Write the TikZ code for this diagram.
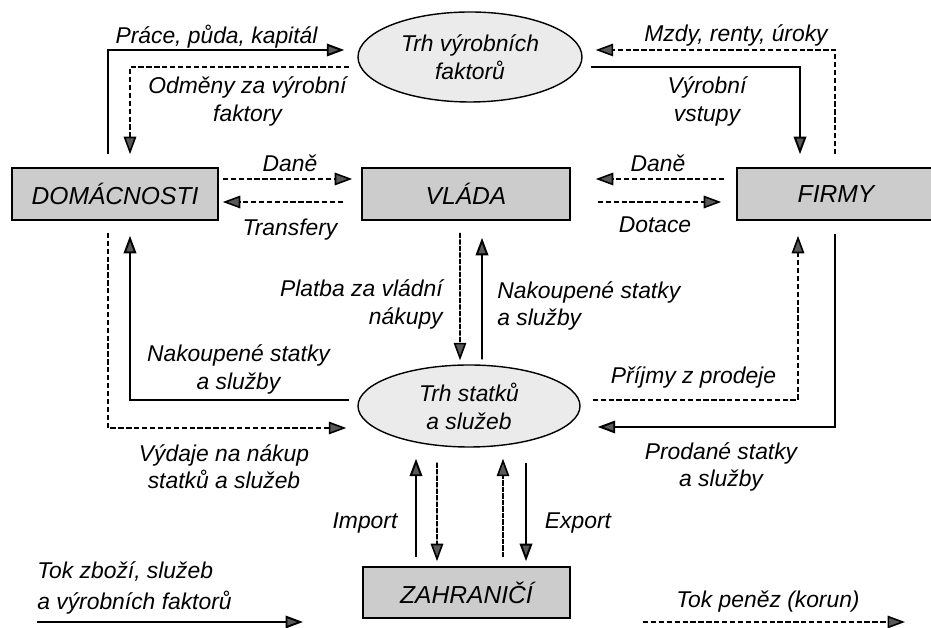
\documentclass[tikz,border=0pt]{standalone}
\usepackage{fontspec}
\setmainfont{Liberation Sans}
\usetikzlibrary{positioning,shapes.geometric,arrows.meta}
\tikzset{
  sector/.style={draw,line width=0.9pt,fill=black!20,minimum height=1.04cm,inner sep=0pt,font=\fontsize{14}{16}\selectfont\itshape},
  market/.style={draw,ellipse,line width=0.8pt,fill=black!8,inner sep=0pt,align=center,font=\fontsize{13}{16}\selectfont\itshape},
  lbl/.style={font=\fontsize{13}{15.5}\selectfont\itshape,inner sep=0pt,align=center},
  tip/.style={-{Triangle[length=3.5mm,width=2.5mm,fill=black!65]}},
  goods/.style={tip,line width=1.1pt},
  money/.style={tip,line width=0.9pt,dash pattern=on 3pt off 1.5pt},
  finemoney/.style={tip,line width=0.9pt,dash pattern=on 3pt off 0.7pt},
}
\begin{document}
\begin{tikzpicture}
\useasboundingbox (0,0) rectangle (18.62,12.56);
% sectors and markets
\node[sector,minimum width=4.12cm] (dom) at (2.3,8.68) {DOMÁCNOSTI};
\node[sector,minimum width=4.16cm] (vlada) at (9.32,8.68) {VLÁDA};
\node[sector,minimum width=3.96cm] (firmy) at (16.72,8.68) {FIRMY};
\node[sector,minimum width=4.14cm,minimum height=1.02cm] (zahr) at (9.33,0.71) {ZAHRANIČÍ};
\node[market,minimum width=4.48cm,minimum height=1.8cm] (trhF) at (9.4,11.42) {Trh výrobních\\faktorů};
\node[market,minimum width=4.44cm,minimum height=1.64cm] (trhS) at (9.38,4.44) {Trh statků\\a služeb};
% factor market
\draw[goods] ([xshift=-0.14cm,yshift=0.26cm]dom.north) |- ([xshift=-0.26cm,yshift=0.14cm]trhF.west);
\draw[money] ([xshift=-0.16cm,yshift=-0.2cm]trhF.west) -| ([xshift=0.3cm,yshift=0.26cm]dom.north);
\draw[money] ([xshift=-0.02cm,yshift=0.26cm]firmy.north) |- ([xshift=0.26cm,yshift=0.14cm]trhF.east);
\draw[goods] ([xshift=0.16cm,yshift=-0.2cm]trhF.east) -| ([xshift=-0.72cm,yshift=0.26cm]firmy.north);
\node[lbl] (lPrace) at (4.33,11.82) {Práce, půda, kapitál};
\node[lbl] (lOdmeny) at (4.95,10.53) {Odměny za výrobní\\faktory};
\node[lbl] (lMzdy) at (14.72,11.86) {Mzdy, renty, úroky};
\node[lbl] (lVstupy) at (14.14,10.53) {Výrobní\\vstupy};
% government
\draw[money] ([xshift=0.08cm,yshift=0.3cm]dom.east) -- ([xshift=-0.18cm,yshift=0.3cm]vlada.west);
\draw[money] ([xshift=-0.36cm,yshift=-0.16cm]vlada.west) -- ([xshift=0.08cm,yshift=-0.16cm]dom.east);
\draw[money] ([xshift=-0.24cm,yshift=0.3cm]firmy.west) -- ([xshift=0.5cm,yshift=0.3cm]vlada.east);
\draw[money] ([xshift=0.54cm,yshift=-0.16cm]vlada.east) -- ([xshift=-0.3cm,yshift=-0.16cm]firmy.west);
\node[lbl] (lDane1) at (5.8,9.3) {Daně};
\node[lbl] (lTransfery) at (5.8,7.96) {Transfery};
\node[lbl] (lDane2) at (13.16,9.3) {Daně};
\node[lbl] (lDotace) at (13.1,8.06) {Dotace};
\draw[finemoney] ([xshift=-0.12cm,yshift=-0.24cm]vlada.south) -- ([xshift=-0.18cm,yshift=0.08cm]trhS.north);
\draw[goods] ([xshift=0.26cm,yshift=0.1cm]trhS.north) -- ([xshift=0.32cm,yshift=-0.34cm]vlada.south);
\node[lbl,align=right,anchor=east] (lPlatba) at (8.86,6.47) {Platba za vládní\\nákupy};
\node[lbl,align=left,anchor=west] (lNakupV) at (9.94,6.44) {Nakoupené statky\\ a služby};
% goods market
\draw[money] ([xshift=-0.14cm,yshift=-0.24cm]dom.south) |- ([xshift=-0.22cm,yshift=-0.44cm]trhS.west);
\draw[goods] ([xshift=-0.16cm,yshift=0.12cm]trhS.west) -| ([xshift=0.3cm,yshift=-0.3cm]dom.south);
\draw[money] ([xshift=0.24cm,yshift=0.12cm]trhS.east) -| ([xshift=-0.76cm,yshift=-0.3cm]firmy.south);
\draw[goods] ([xshift=-0.02cm,yshift=-0.26cm]firmy.south) |- ([xshift=0.34cm,yshift=-0.42cm]trhS.east);
\node[lbl] (lNakupD) at (4.77,5.17) {Nakoupené statky\\a služby};
\node[lbl] (lPrijmy) at (13.87,5.02) {Příjmy z prodeje};
\node[lbl] (lVydaje) at (4.48,3.22) {Výdaje na nákup\\statků a služeb};
\node[lbl] (lProdane) at (14.42,3.22) {Prodané statky\\a služby};
% abroad
\draw[goods] ([xshift=-1.01cm,yshift=0.18cm]zahr.north) -- ([xshift=-1.06cm,yshift=-0.22cm]trhS.south);
\draw[finemoney] ([xshift=-0.64cm,yshift=-0.3cm]trhS.south) -- ([xshift=-0.59cm,yshift=0.1cm]zahr.north);
\draw[finemoney] ([xshift=0.73cm,yshift=0.18cm]zahr.north) -- ([xshift=0.68cm,yshift=-0.22cm]trhS.south);
\draw[goods] ([xshift=1.14cm,yshift=-0.3cm]trhS.south) -- ([xshift=1.19cm,yshift=0.1cm]zahr.north);
\node[lbl] (lImport) at (7.3,2.1) {Import};
\node[lbl] (lExport) at (11.56,2.1) {Export};
% legend
\coordinate (gA) at (0.74,0.12);
\coordinate (gB) at (6.06,0.12);
\coordinate (mA) at (12.86,0.12);
\coordinate (mB) at (18.1,0.12);
\draw[goods] (gA) -- (gB);
\draw[money] (mA) -- (mB);
\node[lbl,align=left,anchor=west] (lTokZ) at (0.74,0.8) {Tok zboží, služeb\\[2pt]a výrobních faktorů};
\node[lbl] (lTokP) at (15.36,0.52) {Tok peněz (korun)};
\end{tikzpicture}
\end{document}
